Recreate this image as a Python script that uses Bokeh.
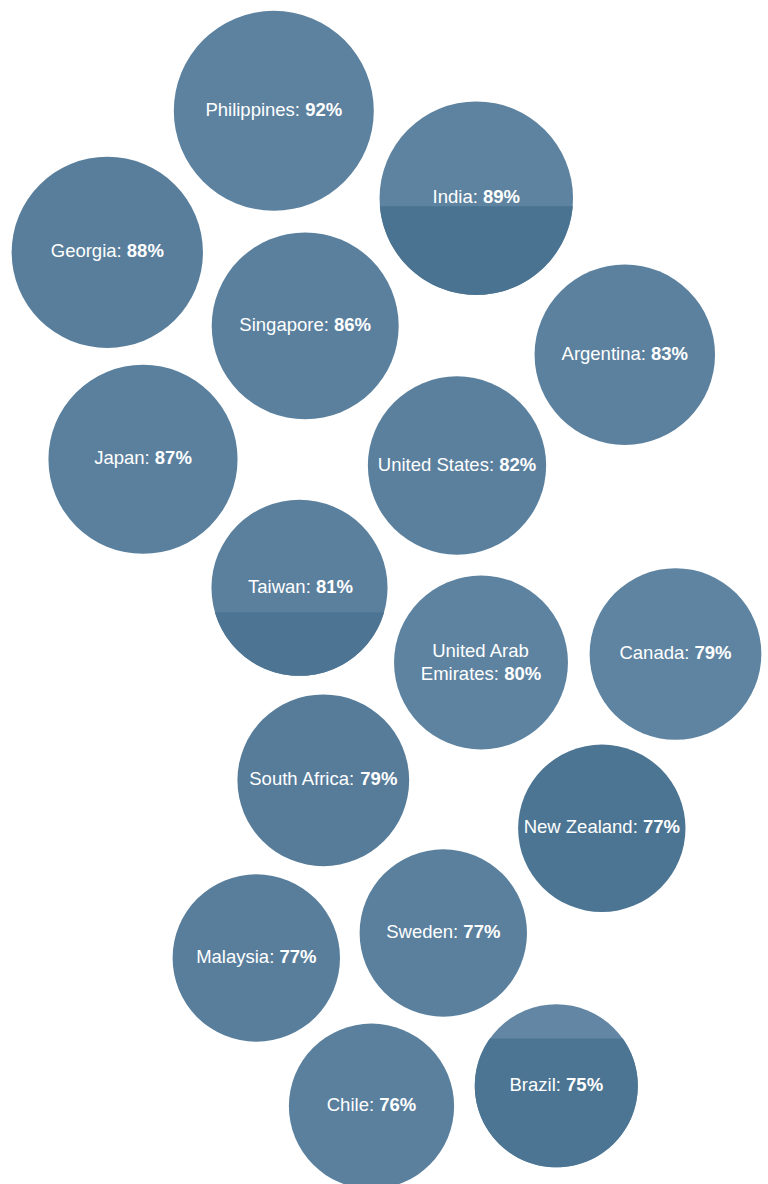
import math
from bokeh.plotting import figure
from bokeh.models import Range1d, ColumnDataSource
from bokeh.core.properties import value
from bokeh.embed import file_html
from bokeh.resources import INLINE

# ---------------- data ----------------
countries = ["Philippines", "India", "Georgia", "Japan", "Singapore", "Argentina",
             "United States", "Taiwan", "United Arab\nEmirates", "Canada",
             "South Africa", "New Zealand", "Sweden", "Malaysia", "Chile", "Brazil"]
values = [92, 89, 88, 87, 86, 83, 82, 81, 80, 79, 79, 77, 77, 77, 76, 75]

# ---------------- layout (bubble centres, page pixels) ----------------
cx = [273.3, 475.8, 106.8, 142.5, 304.7, 624.3, 456.5, 299.0, 480.5, 675.0,
      322.8, 601.3, 442.8, 255.8, 371.0, 555.8]
cy = [110.3, 197.7, 251.8, 458.8, 325.4, 354.2, 465.0, 587.3, 662.0, 653.5,
      779.8, 827.8, 932.5, 957.5, 1105.7, 1085.3]

# ---------------- style ----------------
W, H = 768, 1184
RADIUS_PER_POINT = 100.0 / 92.0
fills = ["#5d82a0", "#5e83a0", "#587e9c", "#5a809e", "#5a809e", "#5c819f",
         "#5a809e", "#5b809e", "#5d83a1", "#5e84a1", "#567c9a", "#4b7593",
         "#5a809e", "#587e9c", "#5a809e", "#6286a3"]
# darker lower segments (offset of the cut from centre, colour)
shade = {1: (8.0, "#4a7391"), 7: (24.4, "#4d7593"), 15: (-47.3, "#4b7592")}

FONT = "Liberation Sans"
FS = 18.5
BASE_OFF = -1.5
LINE_H = 23.5
AW = {' ': 278, ':': 278, '%': 889, 'A': 667, 'B': 667, 'C': 722, 'E': 667, 'G': 778,
      'I': 278, 'J': 500, 'M': 833, 'N': 722, 'P': 667, 'S': 667, 'T': 611, 'U': 722,
      'Z': 611, 'a': 556, 'b': 556, 'c': 500, 'd': 556, 'e': 556, 'f': 278, 'g': 556,
      'h': 556, 'i': 222, 'k': 500, 'l': 222, 'm': 833, 'n': 556, 'o': 556, 'p': 556,
      'r': 333, 's': 500, 't': 278, 'u': 556, 'w': 722, 'y': 500, 'z': 500}


def tw(s):
    return sum(AW.get(ch, 556) for ch in s) * FS / 1000.0


p = figure(width=W, height=H, output_backend="svg", toolbar_location=None,
           x_range=Range1d(0, W), y_range=Range1d(H, 0),
           min_border=0, outline_line_color=None, background_fill_color="white",
           border_fill_color="white")
p.axis.visible = False
p.grid.visible = False

radii = [v * RADIUS_PER_POINT for v in values]
src = ColumnDataSource(dict(x=cx, y=cy, r=radii, c=fills))
p.circle(x="x", y="y", radius="r", fill_color="c", line_color=None, source=src)

# shaded segments (part of circle below a horizontal cut)
xs, ys, cs = [], [], []
for i, (dy, col) in shade.items():
    r = radii[i]
    a0 = math.asin(max(-1.0, min(1.0, dy / r)))
    a1 = math.pi - a0
    n = 80
    px = [cx[i] + r * math.cos(a0 + (a1 - a0) * k / n) for k in range(n + 1)]
    py = [cy[i] + r * math.sin(a0 + (a1 - a0) * k / n) for k in range(n + 1)]
    xs.append(px); ys.append(py); cs.append(col)
p.patches(xs="xs", ys="ys", fill_color="c", line_color=None,
          source=ColumnDataSource(dict(xs=xs, ys=ys, c=cs)))

# labels
n_x, n_y, n_t, n_a = [], [], [], []
b_x, b_y, b_t = [], [], []
for i, name in enumerate(countries):
    lines = name.split("\n")
    pct = f"{values[i]}%"
    nl = len(lines)
    y0 = cy[i] + BASE_OFF - LINE_H * (nl - 1) / 2
    if nl > 1:
        y0 += 1.0
    for j, ln in enumerate(lines):
        yb = y0 + j * LINE_H
        if j < nl - 1:
            n_x.append(cx[i]); n_y.append(yb); n_t.append(ln); n_a.append("center")
        else:
            head = ln + ":"
            w_head = tw(head + " ")
            w_tot = w_head + tw(pct)
            seam = cx[i] - w_tot / 2 + w_head
            n_x.append(seam - tw(" ")); n_y.append(yb); n_t.append(head); n_a.append("right")
            b_x.append(seam); b_y.append(yb); b_t.append(pct)

p.text(x="x", y="y", text="t", text_align="a", text_baseline="alphabetic",
       text_font=value(FONT), text_font_size=f"{FS}px", text_color="white",
       source=ColumnDataSource(dict(x=n_x, y=n_y, t=n_t, a=n_a)))
p.text(x="x", y="y", text="t", text_align="left", text_baseline="alphabetic",
       text_font=value(FONT), text_font_style="bold", text_font_size=f"{FS}px",
       text_color="white", source=ColumnDataSource(dict(x=b_x, y=b_y, t=b_t)))

open("out.html", "w").write(file_html(p, INLINE))
